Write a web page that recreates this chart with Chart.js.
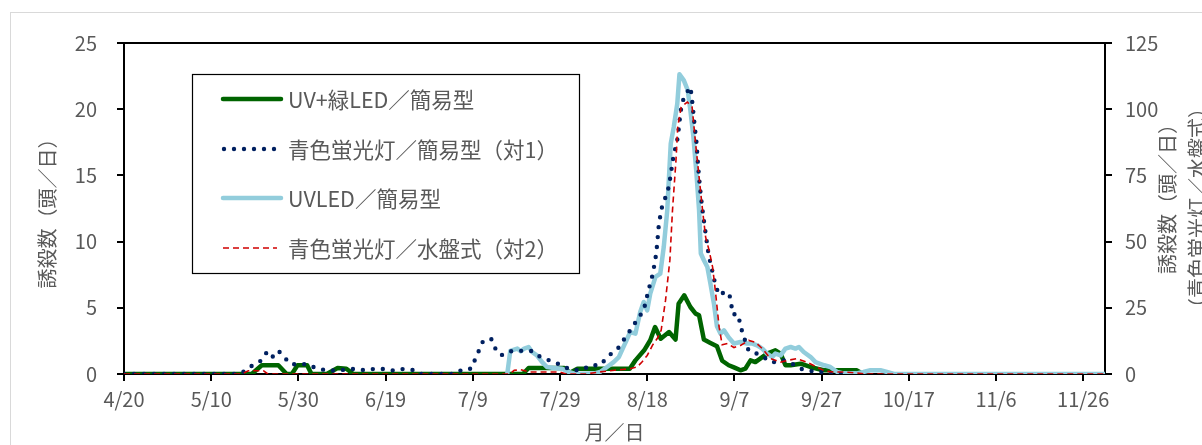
<!DOCTYPE html>
<html>
<head>
<meta charset="utf-8">
<script src="https://cdn.jsdelivr.net/npm/chart.js@4/dist/chart.umd.min.js"></script>
<style>
  html, body { margin: 0; padding: 0; background: #fff; overflow: hidden; }
  #frame { position: absolute; left: 10px; top: 12px; width: 1400px; height: 600px; border: 1px solid #d9d9d9; }
  #c { position: absolute; left: 0; top: 0; }
</style>
</head>
<body>
<div id="frame"></div>
<canvas id="c" width="1202" height="445"></canvas>
<script>
// Days counted from 4/20 (day 0); daily catches per trap.
const xTickLabels = ['4/20', '5/10', '5/30', '6/19', '7/9', '7/29', '8/18', '9/7', '9/27', '10/17', '11/6', '11/26'];
const seriesNames = ['UV+緑LED／簡易型', '青色蛍光灯／簡易型（対1）', 'UVLED／簡易型', '青色蛍光灯／水盤式（対2）'];

// UV+緑LED / 簡易型 (left axis)
const greenDays = [0, 28, 29.3, 31.6, 35.4, 37.3, 38.5, 39.8, 42, 43, 46.5, 49, 51, 52.6,
  91.5, 92.8, 101, 102.3, 104, 116, 117.3, 119.3, 120.7, 121.8, 123.1, 125, 126.5, 127.2, 128.5,
  129.9, 131.1, 131.9, 133, 134.5, 136, 137.2, 138.7, 139.9, 141.4, 142.5, 143.7, 144.8, 146.4,
  147.5, 149.4, 150.6, 151.7, 152.9, 155.2, 157.4, 159, 160.5, 168, 169.5];
const greenVals = [0, 0, 0, 0.66, 0.66, 0, 0, 0.66, 0.66, 0, 0, 0.45, 0.4, 0,
  0, 0.45, 0.45, 0.1, 0.4, 0.4, 1.03, 1.79, 2.55, 3.55, 2.67, 3.17, 2.6, 5.3, 5.94,
  5.06, 4.56, 4.43, 2.6, 2.35, 2.1, 1.0, 0.66, 0.5, 0.28, 0.4, 1.03, 0.9, 1.28,
  1.54, 1.79, 1.54, 0.66, 0.66, 0.78, 0.53, 0.4, 0.28, 0.28, 0];

// 青色蛍光灯 / 簡易型 (対1) (left axis)
const navyDays = [0, 26.5, 28, 29.5, 31.4, 32.7, 33.8, 35.4, 36.9, 38.3, 42.1, 44.1, 46.1, 48.3,
  52.8, 55.1, 57.3, 59.6, 61.9, 64.1, 66.4, 68, 76, 77.5, 79.6, 82.3, 84.2, 85.1, 86.5, 88.3,
  91, 93.6, 95.6, 97.3, 99.3, 101.2, 103, 105, 107, 109.1, 112.1, 113.8, 115, 116.3, 117.6,
  119.2, 120.2, 121.3, 122.1, 122.7, 123.5, 124.4, 125, 126, 127, 127.7, 128.4, 129.9, 130.2,
  130.9, 131.3, 131.7, 132.1, 132.6, 133.2, 134.1, 135.2, 135.7, 136.6, 137.9, 138.9, 139.7,
  140.6, 141.4, 141.8, 143.3, 145.2, 146.7, 148.3, 150, 151.3, 153.2, 155.2, 157.5, 159.6, 161, 165];
const navyVals = [0, 0, 0.28, 0.66, 1.0, 1.62, 1.21, 1.77, 1.21, 0.73, 0.75, 0.43, 0.3, 0.26,
  0.38, 0.3, 0.38, 0.38, 0.26, 0.38, 0.3, 0, 0, 0.33, 0.4, 2.45, 2.67, 1.96, 1.41, 1.71,
  1.75, 1.74, 1.26, 1.06, 0.81, 0.5, 0.3, 0.3, 0.66, 0.66, 1.66, 2.09, 2.8, 3.38, 4.06,
  4.81, 6.2, 7.58, 9.14, 11.4, 12.8, 13.5, 14.2, 16.4, 17.85, 19.9, 20.9, 21.68, 21.0,
  18.7, 17.5, 15.6, 14.1, 12.6, 11.1, 8.97, 7.4, 6.62, 5.94, 6.25, 5.94, 4.48,
  4.56, 3.8, 3.13, 1.74, 1.54, 1.28, 0.9, 0.9, 1.03, 0.78, 0.4, 0.23, 0.23, 0, 0];

// UVLED / 簡易型 (left axis)
const blueDays = [87.9, 88.6, 90.2, 91, 91.8, 92.8, 93.6, 94.7, 95.9, 97, 98.6, 100.5, 102, 103.5,
  107.7, 109.2, 110.8, 112.3, 113.5, 114.2, 115.2, 116.1, 117.3, 118.4, 119.2, 120, 120.7, 121.9,
  123, 123.8, 124.6, 125.4, 126.1, 126.9, 127.4, 128.4, 129.3, 129.9, 130.6, 131.3, 131.9, 132.3,
  133, 133.8, 134.5, 135.3, 136, 136.8, 137.6, 138.7, 139.9, 141.4, 142.9, 144.1, 145.2, 146.4,
  147.5, 148.7, 149.4, 150.6, 151.7, 152.9, 154, 154.8, 155.9, 157.5, 158.6, 160.6, 162, 163.6,
  165, 168, 169.6, 171.2, 173.5, 175, 176.6, 225];
const blueVals = [0, 1.75, 1.92, 1.71, 1.92, 2.04, 1.66, 1.41, 0.9, 0.53, 0.45, 0.4, 0.15, 0,
  0.03, 0.15, 0.53, 0.9, 1.28, 1.79, 2.5, 3.17, 3.05, 4.68, 5.44, 4.81, 6.07, 7.33,
  7.58, 9.6, 12.36, 17.4, 18.66, 20.42, 22.64, 22.18, 21.43, 19.92, 17.9, 15.14, 12.36, 9.1,
  8.59, 8.08, 6.83, 5.32, 3.6, 3.05, 3.3, 2.75, 2.3, 2.42, 2.3, 2.3, 2.17, 1.92,
  1.54, 1.28, 1.54, 1.41, 1.92, 2.04, 1.92, 2.04, 1.66, 1.28, 0.9, 0.66, 0.53, 0.15,
  0.05, 0.05, 0.15, 0.28, 0.28, 0.15, 0, 0];

// 青色蛍光灯 / 水盤式 (対2) (right axis)
const redDays = [0, 27, 28.5, 32, 33, 88.5, 89.5, 91, 93, 100, 101.5, 106, 109, 112.5, 116, 117.7,
  118.8, 120, 121.2, 122.3, 123.2, 124.2, 125.2, 125.8, 126.6, 127, 127.8, 129.2, 130.3, 131.1,
  131.9, 132.7, 133.4, 134.2, 135, 135.7, 136.5, 137.2, 138.4, 139.9, 141.4, 143.3, 144.8, 146.4,
  148.3, 150.6, 152.4, 154.3, 156.6, 158.9, 160.8, 162.7, 165, 168, 170, 225];
const redVals = [0, 0, 1.2, 1.2, 0, 0, 1.4, 1.6, 0.75, 0.75, 0, 0, 0.75, 1.4, 2, 2.64,
  4.5, 7, 10.8, 13.4, 16.5, 27.8, 43, 61.8, 80.7, 93.3, 100.8, 102.7, 100.8, 87,
  74.4, 61.8, 51.7, 46.7, 40.4, 30.4, 17.7, 11, 11.5, 10, 10.8, 12.7, 12, 9.6,
  5.8, 4.5, 5.2, 5.8, 4.5, 2.6, 1.1, 0.75, 0.75, 0.4, 0, 0];

const pts = (xs, ys) => xs.map((x, i) => ({ x: x, y: ys[i] }));

const FONT = '"Noto Sans CJK JP", "Noto Sans", sans-serif';
const TEXT = '#595959';

// Legend box with line samples, drawn inside the plot
const legendBox = {
  id: 'legendBox',
  afterDatasetsDraw(chart) {
    const ctx = chart.ctx;
    const rows = [99, 149, 198, 248];
    ctx.save();
    ctx.fillStyle = '#fff';
    ctx.fillRect(192.5, 74.5, 387, 199);
    ctx.strokeStyle = '#000';
    ctx.lineWidth = 1.2;
    ctx.setLineDash([]);
    ctx.strokeRect(192.5, 74.5, 387, 199);
    chart.data.datasets.forEach((ds, r) => {
      const y = rows[r];
      const dashed = ds.borderDash && ds.borderDash.length;
      ctx.save();
      ctx.strokeStyle = ds.borderColor;
      ctx.lineWidth = ds.borderWidth;
      ctx.lineCap = ds.borderCapStyle || 'butt';
      ctx.setLineDash(ds.borderDash || []);
      ctx.beginPath();
      ctx.moveTo(dashed && ds.borderDash[0] === 0 ? 224 : 223, y);
      ctx.lineTo(dashed ? 277 : 281, y);
      ctx.stroke();
      ctx.restore();
      ctx.fillStyle = TEXT;
      ctx.font = '21.5px ' + FONT;
      ctx.textBaseline = 'middle';
      ctx.textAlign = 'left';
      ctx.fillText(ds.label, 288, y + 1);
    });
    ctx.restore();
  }
};

// Axis titles
const axisTitles = {
  id: 'axisTitles',
  afterDraw(chart) {
    const ctx = chart.ctx;
    const area = chart.chartArea;
    ctx.save();
    ctx.fillStyle = TEXT;
    ctx.font = '20px ' + FONT;
    ctx.textAlign = 'center';
    ctx.textBaseline = 'middle';
    ctx.fillText('月／日', (area.left + area.right) / 2, 432);
    const vtext = (s, x, y) => {
      ctx.save();
      ctx.translate(x, y);
      ctx.rotate(-Math.PI / 2);
      ctx.fillText(s, 0, 0);
      ctx.restore();
    };
    vtext('誘殺数（頭／日）', 47, (area.top + area.bottom) / 2);
    vtext('誘殺数（頭／日）', 1167, 194);
    vtext('（青色蛍光灯／水盤式）', 1197, 208);
    ctx.restore();
  }
};

const tickFont = { family: FONT, size: 20 };

new Chart(document.getElementById('c'), {
  type: 'line',
  data: {
    datasets: [
      { label: seriesNames[0], data: pts(greenDays, greenVals), yAxisID: 'y', borderColor: '#006400',
        borderWidth: 4.5, borderJoinStyle: 'round', borderCapStyle: 'round', order: 3 },
      { label: seriesNames[1], data: pts(navyDays, navyVals), yAxisID: 'y', borderColor: '#002060',
        borderWidth: 4.4, borderDash: [0, 10], borderCapStyle: 'round', order: 1 },
      { label: seriesNames[2], data: pts(blueDays, blueVals), yAxisID: 'y', borderColor: '#92CDDC',
        borderWidth: 4.5, borderJoinStyle: 'round', borderCapStyle: 'round', order: 2 },
      { label: seriesNames[3], data: pts(redDays, redVals), yAxisID: 'y2', borderColor: '#D00000',
        borderWidth: 1.6, borderDash: [6, 4], order: 0 }
    ]
  },
  options: {
    responsive: false,
    animation: false,
    events: [],
    layout: { padding: { top: 43, left: 0, right: 0, bottom: 0 } },
    elements: { point: { radius: 0 }, line: { tension: 0, fill: false } },
    plugins: { legend: { display: false }, tooltip: { enabled: false } },
    scales: {
      x: {
        type: 'linear', position: 'bottom', min: 0, max: 225,
        afterFit(s) { s.height = 71; },
        ticks: {
          stepSize: 20, includeBounds: false, autoSkip: false, maxRotation: 0,
          font: tickFont, color: TEXT, padding: 6,
          callback: (v) => xTickLabels[Math.round(v / 20)]
        },
        grid: { drawOnChartArea: false, drawTicks: true, tickLength: 7, color: '#000', lineWidth: 2 },
        border: { display: true, color: '#000', width: 2 }
      },
      y: {
        position: 'left', min: 0, max: 25,
        afterFit(s) { s.width = 124; },
        ticks: { stepSize: 5, font: tickFont, color: TEXT, padding: 20 },
        grid: {
          drawOnChartArea: true, tickLength: 7, lineWidth: 2, tickColor: '#000',
          color: (c) => (c.tick && c.tick.value === 25 ? '#000' : 'rgba(0,0,0,0)')
        },
        border: { display: true, color: '#000', width: 2 }
      },
      y2: {
        position: 'right', min: 0, max: 125,
        afterFit(s) { s.width = 97; },
        ticks: { stepSize: 25, font: tickFont, color: TEXT, padding: 13 },
        grid: { drawOnChartArea: false, tickLength: 7, lineWidth: 2, color: '#000' },
        border: { display: true, color: '#000', width: 2 }
      }
    }
  },
  plugins: [legendBox, axisTitles]
});
</script>
</body>
</html>
